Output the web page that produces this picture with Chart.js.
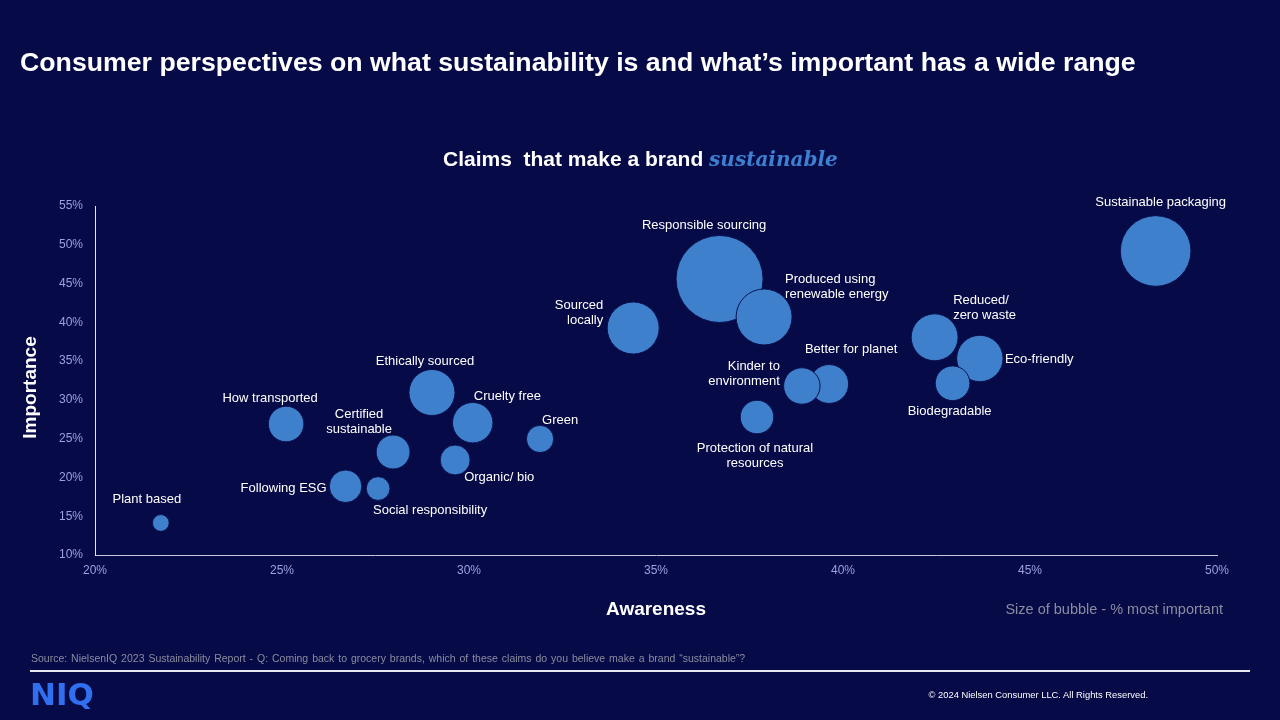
<!DOCTYPE html>
<html><head><meta charset="utf-8">
<script src="https://cdn.jsdelivr.net/npm/chart.js@4.4.0/dist/chart.umd.min.js"></script>
<style>
html,body{margin:0;padding:0;background:#060a46;width:1280px;height:720px;overflow:hidden;font-family:'Liberation Sans',Arial,sans-serif;}
#wrap{position:relative;width:1280px;height:720px;}
canvas{position:absolute;left:0;top:0;}
.t{position:absolute;white-space:nowrap;}
</style></head><body>
<div id="wrap">
<canvas id="c" width="1280" height="720" style="width:1280px;height:720px"></canvas>
<div class="t" style="left:20px;top:49px;font-size:26.7px;line-height:27px;font-weight:bold;color:#fff;">Consumer perspectives on what sustainability is and what’s important has a wide range</div>
<div class="t" style="left:443px;top:148px;font-size:21px;line-height:21px;font-weight:bold;color:#fff;">Claims&nbsp; that make a brand <span style="font-family:'DejaVu Serif',serif;font-style:italic;color:#3d80d2;font-size:20px">sustainable</span></div>
<div class="t" style="right:57px;top:602px;font-size:14.5px;line-height:14px;color:#8b8ca0;">Size of bubble - % most important</div>
<div class="t" style="left:31px;top:653px;font-size:10.5px;line-height:10px;word-spacing:1px;color:#8b8ca0;">Source: NielsenIQ 2023 Sustainability Report - Q: Coming back to grocery brands, which of these claims do you believe make a brand “sustainable”?</div>
<div style="position:absolute;left:30px;top:670px;width:1220px;height:1.5px;background:#e8e8f0;"></div>
<div class="t" style="left:30px;top:679px;font-family:'DejaVu Sans',sans-serif;font-weight:bold;font-size:31px;line-height:31px;color:#2f6ff0;">NIQ</div>
<div class="t" style="right:132px;top:690px;font-size:9.4px;line-height:9px;color:#fff;">© 2024 Nielsen Consumer LLC. All Rights Reserved.</div>
</div>
<script>
const claims = [
  'Responsible sourcing',
  'Sustainable packaging',
  'Produced using\nrenewable energy',
  'Sourced\nlocally',
  'Reduced/\nzero waste',
  'Eco-friendly',
  'Ethically sourced',
  'Cruelty free',
  'Better for planet',
  'Kinder to\nenvironment',
  'How transported',
  'Biodegradable',
  'Certified\nsustainable',
  'Protection of natural\nresources',
  'Following ESG',
  'Organic/ bio',
  'Green',
  'Social responsibility',
  'Plant based'
];
const awareness = [36.70, 48.36, 37.89, 34.39, 42.45, 43.66, 29.01, 30.10, 39.63, 38.90, 25.11, 42.93, 27.97, 37.70, 26.70, 29.63, 31.90, 27.57, 21.76];
const importance = [45.59, 49.20, 40.69, 39.27, 38.07, 35.34, 30.95, 27.06, 32.05, 31.79, 26.89, 32.14, 23.28, 27.79, 18.86, 22.25, 24.96, 18.57, 14.13];
const mostImportant = [29.6, 19.5, 12.25, 10.6, 8.6, 8.4, 8.3, 6.4, 5.9, 5.2, 4.95, 4.7, 4.5, 4.4, 4.15, 3.5, 2.9, 2.2, 1.1];
const xTickLabels = ['20%','25%','30%','35%','40%','45%','50%'];
const yTickLabels = ['10%','15%','20%','25%','30%','35%','40%','45%','50%','55%'];
const xAxisTitle = 'Awareness';
const yAxisTitle = 'Importance';

// label placement relative to bubble centre (layout only)
const labelPlacement = [
  [-15.5,-54,'center'],[5,-49,'center'],[21,-30,'left'],[-30,-15.5,'right'],[18.5,-29,'left'],
  [25,0.5,'left'],[-7,-31.5,'center'],[1,-26,'left'],[22,-35,'center'],[-22,-12.5,'right'],
  [-16,-26,'center'],[-3,28,'center'],[-34,-30.5,'center'],[-2,38.5,'center'],[-19,2,'right'],
  [9,17,'left'],[2,-19,'left'],[52,22,'center'],[-14,-24,'center']
];
const bubbleScale = 8; // px radius per sqrt(%)

const points = claims.map((c,i)=>({x:awareness[i], y:importance[i], r:bubbleScale*Math.sqrt(mostImportant[i])}));

const FONT = "'Liberation Sans', Arial, sans-serif";

const labelPlugin = {
  id:'bubbleLabels',
  afterDatasetsDraw(chart){
    const ctx = chart.ctx;
    const meta = chart.getDatasetMeta(0);
    ctx.save();
    ctx.font = '13px ' + FONT;
    ctx.fillStyle = '#ffffff';
    ctx.textBaseline = 'middle';
    meta.data.forEach((el,i)=>{
      const [dx,dy,al] = labelPlacement[i];
      const lines = claims[i].split('\n');
      ctx.textAlign = al;
      const lh = 15;
      const y0 = el.y + dy - (lines.length-1)*lh/2;
      lines.forEach((ln,k)=>ctx.fillText(ln, el.x+dx, y0+k*lh));
    });
    // y axis title (slightly below the plot centre, as in the source)
    const ca = chart.chartArea;
    ctx.translate(31, (ca.top+ca.bottom)/2 + 7);
    ctx.rotate(-Math.PI/2);
    ctx.font = 'bold 19px ' + FONT;
    ctx.textAlign = 'center';
    ctx.fillText(yAxisTitle, 0, 0);
    ctx.restore();
  }
};

new Chart(document.getElementById('c'), {
  type:'bubble',
  data:{datasets:[{
    data:points,
    backgroundColor:'#3e80cc',
    hoverBackgroundColor:'#3e80cc',
    borderColor:'#0b1150',
    hoverBorderColor:'#0b1150',
    borderWidth:1,
    hoverBorderWidth:1
  }]},
  options:{
    responsive:false,
    animation:false,
    devicePixelRatio:1,
    events:[],
    layout:{padding:{left:0,top:206,right:63,bottom:95}},
    plugins:{legend:{display:false},tooltip:{enabled:false}},
    scales:{
      x:{
        type:'linear', min:20, max:50,
        afterFit:s=>{s.height=70;},
        ticks:{stepSize:5, color:'#9da1e0', font:{family:FONT,size:12}, padding:8,
          callback:(v,i)=>xTickLabels[i]},
        grid:{display:false, drawTicks:false},
        border:{display:true, color:'#c8c9dc', width:1},
        title:{display:true, text:xAxisTitle, color:'#ffffff', font:{family:FONT,size:19,weight:'bold'}, padding:{top:0,bottom:4}}
      },
      y:{
        type:'linear', min:10, max:55,
        afterFit:s=>{s.width=95;},
        ticks:{stepSize:5, color:'#9da1e0', font:{family:FONT,size:12}, padding:12,
          callback:(v,i)=>yTickLabels[i]},
        grid:{display:false, drawTicks:false},
        border:{display:true, color:'#e6e6f0', width:1},
        title:{display:false, text:yAxisTitle}
      }
    }
  },
  plugins:[labelPlugin]
});
</script>
</body></html>
